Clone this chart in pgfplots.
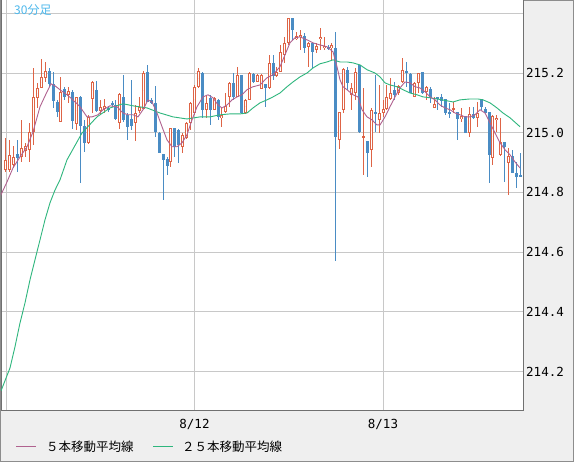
\documentclass[border=0pt]{standalone}
\usepackage{pgfplots}
\pgfplotsset{compat=1.18}
\usepackage{pgfplotstable}
\usepackage{fontspec}
\setmonofont{DejaVu Sans Mono}
\newfontfamily\jp{Noto Sans CJK JP}

\definecolor{upc}{HTML}{DE6446}
\definecolor{dnc}{HTML}{4A8CC4}
\definecolor{maf}{HTML}{B0628F}
\definecolor{mas}{HTML}{2EB67D}
\definecolor{grd}{HTML}{C8C8C8}
\definecolor{bgc}{HTML}{EFEFEF}
\definecolor{frm}{HTML}{707070}
\definecolor{ttl}{HTML}{4DB8EC}

% 30 min candles, x = bar number (0 = 8/11 00:00), columns: open high low close
\pgfplotstableread{
i o h l c
0 214.876 214.983 214.869 214.909
1 214.876 214.976 214.869 214.926
2 214.892 214.956 214.882 214.919
4 214.919 215.043 214.902 214.949
5 214.939 214.966 214.919 214.956
6 214.943 215.033 214.902 215.003
7 215.003 215.217 214.959 215.120
8 215.117 215.167 215.083 215.150
9 215.150 215.247 215.150 215.187
10 215.184 215.237 215.170 215.207
14 215.036 215.187 215.036 215.137
16 215.127 215.154 215.100 215.140
18 215.030 215.120 215.010 215.120
21 214.966 215.060 214.963 215.053
22 215.113 215.174 215.066 215.170
24 215.073 215.110 215.060 215.087
25 215.080 215.113 215.066 215.090
29 215.033 215.133 215.013 215.130
33 215.033 215.093 214.973 215.066
34 215.073 215.120 215.066 215.087
35 215.080 215.207 215.080 215.200
42 214.902 215.016 214.886 215.016
45 214.953 214.999 214.932 214.993
46 214.983 215.036 214.979 215.033
47 215.033 215.103 215.010 215.100
48 215.066 215.160 215.060 215.154
49 215.154 215.217 215.150 215.207
51 215.077 215.127 215.050 215.100
53 215.077 215.120 215.077 215.117
55 215.050 215.087 215.020 215.060
56 215.070 215.133 215.066 215.090
57 215.120 215.170 215.087 215.167
59 215.120 215.221 215.120 215.194
61 215.066 215.113 215.063 215.110
62 215.110 215.204 215.110 215.200
64 215.170 215.197 215.170 215.194
65 215.147 215.197 215.147 215.194
67 215.150 215.261 215.147 215.234
69 215.190 215.221 215.187 215.204
70 215.204 215.294 215.204 215.271
71 215.261 215.321 215.234 215.301
72 215.301 215.385 215.294 215.385
74 215.314 215.338 215.311 215.324
75 215.321 215.344 215.278 215.328
77 215.288 215.304 215.221 215.301
79 215.278 215.301 215.267 215.291
80 215.314 215.351 215.278 215.321
81 215.284 215.321 215.278 215.291
83 215.284 215.301 215.244 215.294
85 214.976 215.070 214.946 215.070
86 215.077 215.217 215.066 215.214
88 215.127 215.167 215.077 215.150
89 215.133 215.217 215.110 215.204
91 214.983 215.150 214.859 214.989
93 214.943 215.083 214.886 215.077
95 215.043 215.160 214.999 215.066
96 215.066 215.110 215.053 215.080
97 215.080 215.160 215.077 215.120
98 215.113 215.184 215.110 215.133
100 215.133 215.160 215.127 215.157
101 215.170 215.251 215.167 215.211
104 215.120 215.170 215.120 215.167
105 215.167 215.200 215.133 215.200
107 215.137 215.157 215.110 215.154
109 215.083 215.120 215.083 215.097
114 215.077 215.103 215.066 215.083
116 215.046 215.083 215.036 215.056
118 214.999 215.087 214.986 215.063
120 215.050 215.103 215.020 215.066
124 214.916 215.060 214.892 215.056
125 215.043 215.060 215.003 215.050
126 214.926 215.050 214.922 214.969
128 214.899 214.949 214.792 214.922
}\up

\pgfplotstableread{
i o h l c
3 214.929 214.976 214.869 214.916
11 215.207 215.217 215.154 215.164
12 215.164 215.204 215.083 215.107
13 215.103 215.110 215.053 215.070
15 215.147 215.154 215.110 215.120
17 215.137 215.144 215.013 215.040
19 215.120 215.123 214.832 215.023
20 215.023 215.043 214.936 214.966
23 215.144 215.174 215.070 215.073
26 215.083 215.090 215.070 215.077
27 215.100 215.107 215.087 215.093
28 215.093 215.110 215.043 215.046
30 215.120 215.194 215.036 215.043
31 215.060 215.066 214.976 215.020
32 215.046 215.177 215.010 215.023
36 215.204 215.227 215.103 215.103
37 215.110 215.117 215.097 215.100
38 215.100 215.157 214.986 215.003
39 214.999 215.003 214.932 214.932
40 214.929 214.929 214.775 214.909
41 214.912 214.919 214.859 214.889
43 215.016 215.016 214.919 214.953
44 215.010 215.013 214.899 214.959
50 215.200 215.204 215.050 215.077
52 215.117 215.127 215.026 215.077
54 215.110 215.113 215.043 215.053
58 215.167 215.200 215.110 215.120
60 215.194 215.194 215.063 215.066
63 215.197 215.200 215.167 215.170
66 215.164 215.164 215.087 215.150
68 215.234 215.261 215.177 215.190
73 215.385 215.385 215.311 215.344
76 215.324 215.334 215.267 215.284
78 215.301 215.301 215.217 215.271
82 215.288 215.294 215.278 215.281
84 215.284 215.338 214.571 214.986
87 215.211 215.221 215.144 215.167
90 215.227 215.227 214.999 215.003
92 214.973 214.973 214.852 214.932
94 215.070 215.194 215.003 215.063
99 215.144 215.170 215.110 215.127
102 215.207 215.237 215.154 215.200
103 215.197 215.200 215.133 215.133
106 215.204 215.204 215.130 215.133
108 215.147 215.154 215.100 215.117
110 215.120 215.120 215.077 215.113
111 215.120 215.130 215.087 215.107
112 215.113 215.113 215.060 215.066
113 215.070 215.100 215.050 215.063
115 215.070 215.070 214.976 215.046
117 215.056 215.056 214.999 214.999
119 215.063 215.087 215.046 215.050
121 215.113 215.113 215.077 215.087
122 215.080 215.087 215.066 215.066
123 215.070 215.070 214.832 214.926
127 214.969 214.969 214.835 214.953
129 214.922 214.943 214.865 214.865
130 214.865 214.902 214.815 214.852
131 214.859 214.932 214.852 214.852
}\dn

\pgfplotsset{candle/.style={only marks, mark=*, mark size=0pt,
  mark options={draw=none, fill=none}, forget plot,
  error bars/.cd, y dir=both, y explicit, error mark=none}}

\begin{document}
\begin{tikzpicture}
\useasboundingbox (-1pt,-51pt) rectangle (573pt,411pt);
\fill[bgc] (-1pt,-51pt) rectangle (573pt,411pt);
\draw[frm!80, line width=1pt] (-0.5pt,-50.5pt) rectangle (572.5pt,410.5pt);
\begin{axis}[
  at={(0pt,0pt)}, anchor=south west,
  scale only axis, width=522pt, height=411pt,
  xmin=-1.273, xmax=131.65,
  ymin=214.0677, ymax=215.4446,
  axis background/.style={fill=white},
  axis line style={frm, line width=1pt},
  xtick={0,48,96}, xticklabels={,8/12,8/13},
  ytick={214.2,214.4,214.6,214.8,215.0,215.2,215.4},
  yticklabels={214.2,214.4,214.6,214.8,215.0,215.2,},
  yticklabel pos=right,
  major tick length=0pt,
  grid=major, grid style={grd, line width=0.8pt},
  tick label style={font=\ttfamily\fontsize{12.5}{13}\selectfont, inner sep=0pt},
  y tick label style={anchor=west, xshift=3pt},
  x tick label style={anchor=north, yshift=-8pt},
]
% wicks
\addplot[candle, error bar style={dnc, line width=1pt}]
  table[x=i, y expr={(\thisrow{h}+\thisrow{l})/2}, y error expr={(\thisrow{h}-\thisrow{l})/2}] {\dn};
\addplot[candle, error bar style={upc, line width=1pt}]
  table[x=i, y expr={(\thisrow{h}+\thisrow{l})/2}, y error expr={(\thisrow{h}-\thisrow{l})/2}] {\up};
% bodies
\addplot[candle, error bar style={dnc, line width=3pt}]
  table[x=i, y expr={(\thisrow{o}+\thisrow{c})/2}, y error expr={max(abs(\thisrow{o}-\thisrow{c})/2,0.0017)}] {\dn};
\addplot[candle, error bar style={upc, line width=3pt}]
  table[x=i, y expr={(\thisrow{o}+\thisrow{c})/2}, y error expr={max(abs(\thisrow{o}-\thisrow{c})/2,0.0017)}] {\up};
\addplot[candle, error bar style={white, line width=1pt}]
  table[x=i, y expr={(\thisrow{o}+\thisrow{c})/2}, y error expr={max(abs(\thisrow{o}-\thisrow{c})/2-0.00335,0)}] {\up};
% 25 bar moving average
\addplot[mas, line width=0.9pt, mark=none] coordinates {
(-1.27,214.135) (1.02,214.212) (2.29,214.283) (3.57,214.363) (4.84,214.430) (6.11,214.507)
(7.38,214.574) (8.66,214.641) (9.93,214.708) (11.20,214.765) (12.48,214.808) (13.75,214.842)
(15.53,214.909) (19.35,214.999) (23.17,215.053) (26.48,215.083) (29.79,215.097) (32.34,215.090)
(35.91,215.083) (39.22,215.066) (42.53,215.053) (46.09,215.046) (49.40,215.053) (51.95,215.053)
(54.49,215.060) (57.04,215.063) (59.59,215.063) (61.37,215.066) (62.90,215.083) (64.68,215.100)
(66.46,215.110) (67.99,215.120) (69.77,215.133) (71.56,215.154) (73.08,215.170) (74.87,215.187)
(76.65,215.200) (78.18,215.217) (79.96,215.231) (81.74,215.237) (83.27,215.244) (85.05,215.237)
(86.83,215.237) (88.36,215.234) (90.15,215.227) (91.93,215.211) (93.96,215.200) (95.24,215.187)
(96.51,215.167) (97.78,215.160) (99.57,215.154) (101.10,215.144) (102.88,215.133) (104.66,215.127)
(106.19,215.120) (107.97,215.117) (109.75,215.113) (112.30,215.107) (113.83,215.103) (115.61,215.110)
(118.16,215.113) (120.19,215.113) (121.47,215.110) (123.25,215.100) (125.03,215.083) (126.56,215.066)
(128.34,215.050) (130.89,215.020)
};
% 5 bar moving average
\addplot[maf, line width=0.9pt, mark=none] coordinates {
(-1.53,214.785) (0.25,214.835) (1.78,214.882) (3.57,214.919) (5.35,214.953) (6.88,215.003)
(8.66,215.087) (10.44,215.137) (11.46,215.164) (12.48,215.157) (13.75,215.144) (15.53,215.127)
(16.81,215.113) (18.84,215.087) (20.63,215.053) (21.90,215.053) (23.43,215.060) (24.70,215.077)
(26.48,215.090) (28.27,215.087) (29.79,215.066) (31.07,215.060) (32.34,215.060) (33.61,215.053)
(34.89,215.077) (36.16,215.110) (37.18,215.103) (38.45,215.066) (39.73,215.020) (41.00,214.976)
(42.27,214.953) (43.54,214.953) (44.82,214.966) (46.09,214.993) (47.36,215.043) (48.64,215.087)
(50.17,215.120) (51.44,215.127) (52.71,215.117) (53.98,215.093) (55.00,215.083) (56.28,215.093)
(57.55,215.110) (58.82,215.120) (60.10,215.127) (61.37,215.144) (62.90,215.154) (64.68,215.160)
(66.46,215.184) (67.99,215.194) (69.77,215.221) (71.05,215.261) (72.32,215.301) (73.59,215.318)
(74.87,215.321) (76.65,215.311) (78.18,215.301) (79.96,215.294) (81.74,215.288) (83.27,215.271)
(84.29,215.221) (85.05,215.177) (85.82,215.154) (86.83,215.144) (88.36,215.127) (89.64,215.120)
(90.65,215.077) (91.93,215.053) (93.20,215.043) (94.47,215.026) (95.24,215.026) (96.51,215.053)
(97.78,215.087) (99.06,215.120) (100.33,215.150) (101.60,215.170) (102.88,215.167) (104.15,215.154)
(105.42,215.150) (106.70,215.137) (107.97,215.120) (109.24,215.110) (110.52,215.093) (111.79,215.083)
(113.06,215.077) (114.34,215.066) (115.61,215.060) (116.88,215.053) (118.16,215.053) (119.43,215.060)
(120.70,215.077) (121.98,215.066) (123.25,215.033) (124.52,214.999) (125.80,214.966) (127.07,214.943)
(128.34,214.926) (129.62,214.902) (130.89,214.882)
};
\end{axis}
% title and legend
\node[anchor=west, inner sep=0pt, text=ttl] at (13pt,400.5pt) {\jp\fontsize{12}{12}\selectfont 30分足};
\draw[maf, line width=1pt] (15.5pt,-36pt) -- (35.5pt,-36pt);
\node[anchor=west, inner sep=0pt] at (45pt,-36pt) {\jp\fontsize{12.5}{13}\selectfont ５本移動平均線};
\draw[mas, line width=1pt] (152pt,-36pt) -- (172pt,-36pt);
\node[anchor=west, inner sep=0pt] at (181pt,-36pt) {\jp\fontsize{12.5}{13}\selectfont ２５本移動平均線};
\end{tikzpicture}
\end{document}
